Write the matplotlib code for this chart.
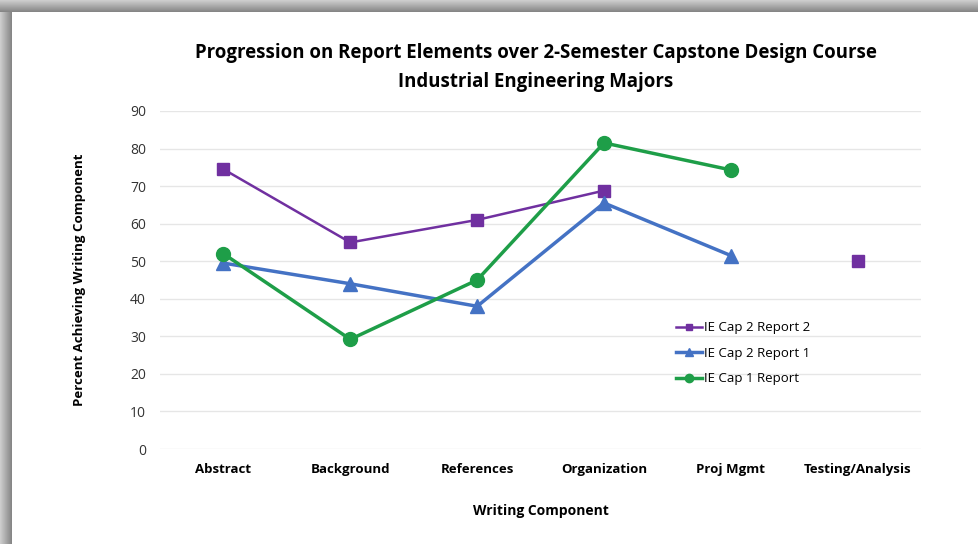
import numpy as np
import matplotlib
matplotlib.use('Agg')
import matplotlib.pyplot as plt
from matplotlib.patches import Rectangle

# Chart data
categories = ['Abstract', 'Background', 'References', 'Organization', 'Proj Mgmt', 'Testing/Analysis']
cap2_report2 = [74.5, 55, 61, 68.8, np.nan, 50]
cap2_report1 = [49.5, 44, 38, 65.5, 51.5, np.nan]
cap1_report = [52, 29.2, 45, 81.5, 74.3, np.nan]
y_ticks = [0, 10, 20, 30, 40, 50, 60, 70, 80, 90]

plt.rcParams['font.family'] = ['Open Sans', 'DejaVu Sans']

fig = plt.figure(figsize=(9.79, 5.44), dpi=100)
fig.patch.set_facecolor('white')

# gray shadow frame along top and left edges
W, H = 979, 544
for i in range(12):
    g = 0.80 - 0.025 * i
    fig.patches.append(Rectangle((0, 1 - (i + 1) / H), 1, 1 / H, transform=fig.transFigure,
                                 facecolor=(g, g, g), edgecolor='none', zorder=0))
    fig.patches.append(Rectangle((i / W, 0), 1 / W, 1 - i / H, transform=fig.transFigure,
                                 facecolor=(g, g, g), edgecolor='none', zorder=0))

ax = fig.add_axes([0.1634, 0.1746, 0.7776, 0.6214])
ax.set_facecolor('none')
x = np.arange(len(categories))

ax.plot(x, cap2_report2, color='#7030A0', lw=1.8, marker='s', ms=8, label='IE Cap 2 Report 2', zorder=3)
ax.plot(x, cap2_report1, color='#4472C4', lw=2.5, marker='^', ms=10, label='IE Cap 2 Report 1', zorder=3)
ax.plot(x, cap1_report, color='#1E9E48', lw=2.5, marker='o', ms=10, label='IE Cap 1 Report', zorder=4)

ax.set_xlim(-0.5, len(categories) - 0.5)
ax.set_ylim(0, 90)
ax.set_yticks(y_ticks)
ax.set_xticks(x)
ax.set_xticklabels(categories, fontweight='bold', fontsize=9.5)
ax.tick_params(axis='y', labelsize=10, length=0, pad=10, colors='#333333')
ax.tick_params(axis='x', length=0, pad=10)
ax.grid(axis='y', color='#e6e6e6', lw=1)
ax.set_axisbelow(True)
for s in ax.spines.values():
    s.set_visible(False)

ax.set_xlabel('Writing Component', fontweight='bold', fontsize=10, labelpad=20)
ax.set_ylabel('Percent Achieving Writing Component', fontweight='bold', fontsize=9.5, labelpad=32)

fig.text(0.547, 0.902, 'Progression on Report Elements over 2-Semester Capstone Design Course',
         ha='center', va='center', fontweight='bold', fontsize=13.4)
fig.text(0.547, 0.850, 'Industrial Engineering Majors',
         ha='center', va='center', fontweight='bold', fontsize=13.4)

leg = ax.legend(loc='upper left', bbox_to_anchor=(0.662, 0.413), frameon=False, fontsize=9.5,
                handlelength=2.0, handletextpad=0.15, labelspacing=0.95, markerscale=0.6)

plt.savefig('out.png', dpi=100)
